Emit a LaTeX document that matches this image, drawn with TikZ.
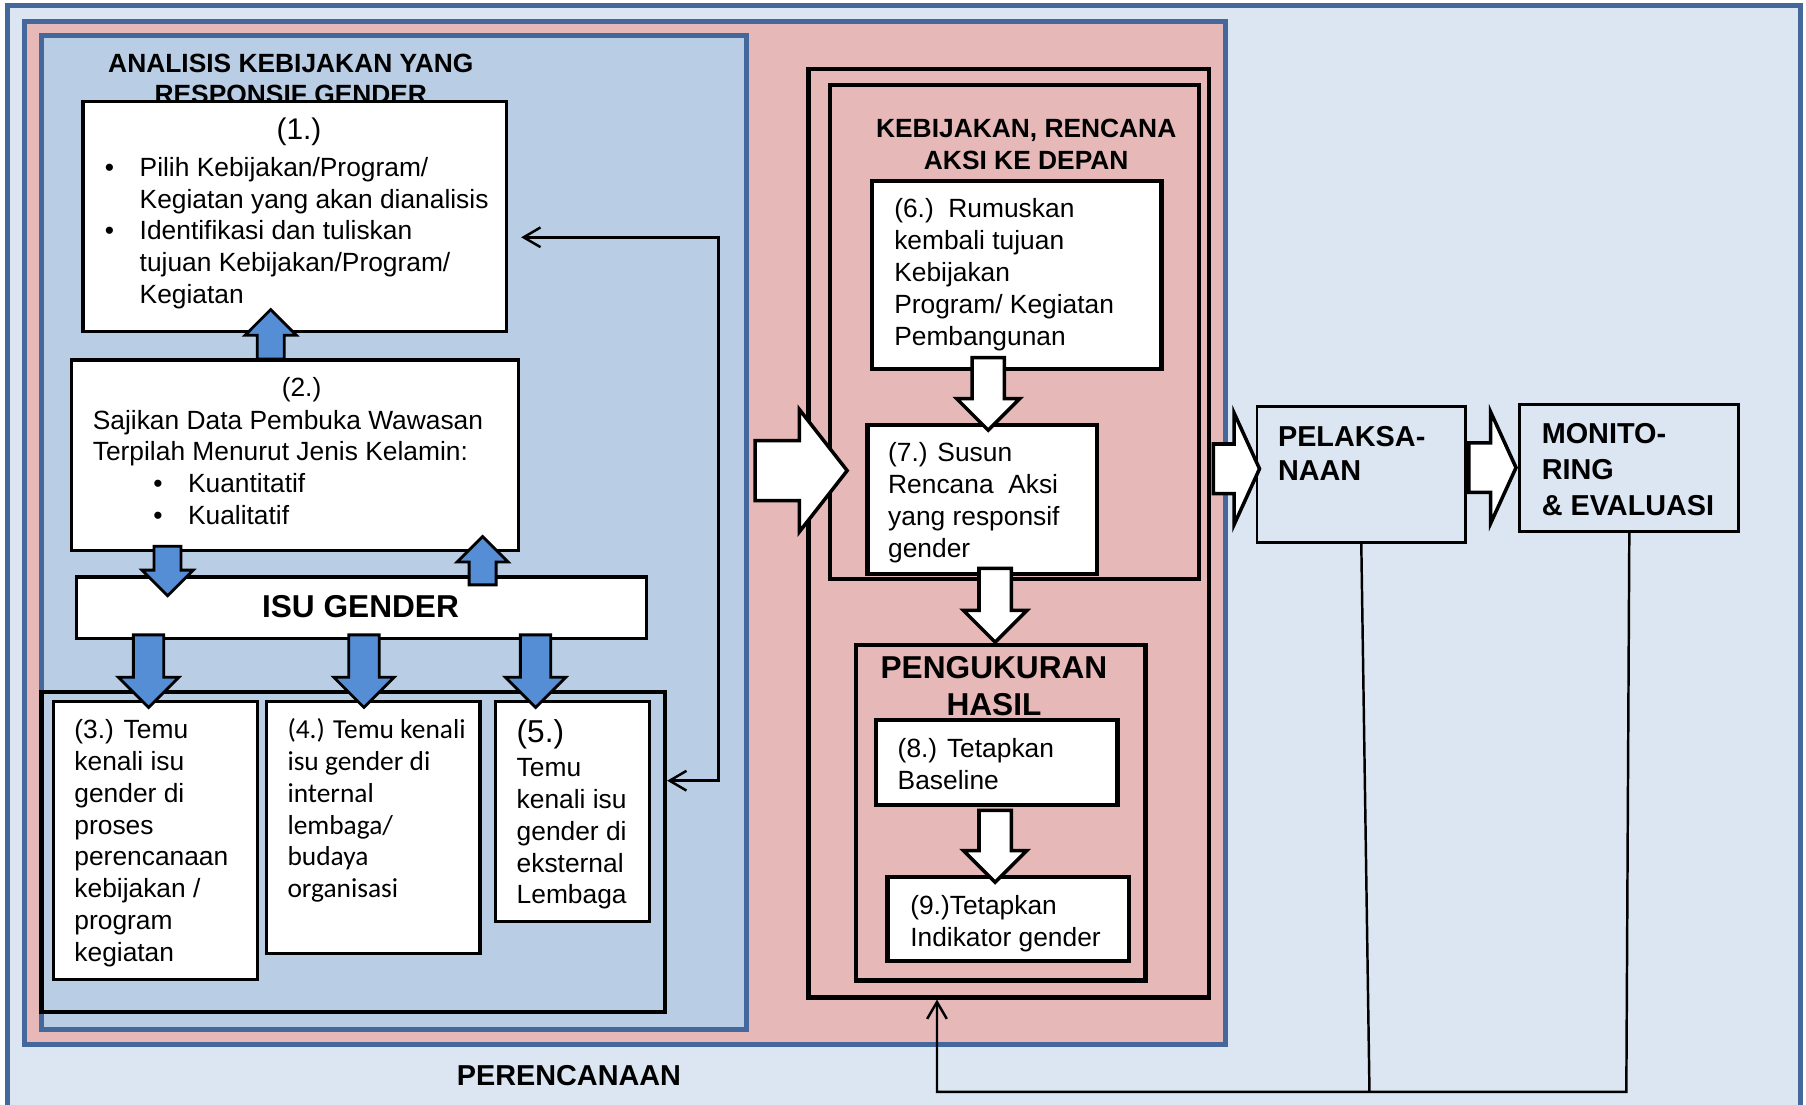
\documentclass[tikz,border=0pt]{standalone}
\usepackage{fontspec}
\setmainfont{Liberation Sans}
\newfontfamily\calibrifont{Carlito}
\usetikzlibrary{arrows.meta, fit, shapes.arrows}

\definecolor{planfill}{HTML}{DCE6F2}
\definecolor{pinkfill}{HTML}{E6B9B8}
\definecolor{bluefill}{HTML}{B9CDE5}
\definecolor{steel}{HTML}{44689C}
\definecolor{arrowblue}{HTML}{558ED5}

\newlength{\px}
\setlength{\px}{0.11518mm}
\newcommand{\itembul}{\makebox[9.9pt][l]{\textbullet}}
\newcommand{\itemgap}{\hspace*{9.9pt}}

\begin{document}
\begin{tikzpicture}[
    x=0.11518mm, y=-0.11518mm,
    panel/.style={draw=steel, line width=1.4pt, inner sep=0pt},
    blackframe/.style={draw=black, line width=1.2pt, inner sep=0pt},
    lbox/.style={draw=black, fill=white, line width=0.9pt, inner sep=0pt},
    rbox/.style={draw=black, fill=white, line width=1.2pt, inner sep=0pt},
    sbox/.style={draw=black, line width=0.8pt, inner sep=0pt},
    boxtext/.style={anchor=north west, align=left, inner sep=0pt, font=\fontsize{7.5}{9.05}\selectfont},
    titletext/.style={anchor=north, align=center, inner sep=0pt, font=\bfseries\fontsize{7.5}{8.9}\selectfont},
    % panah tegak: lebar batang lewat inner xsep
    bluearr/.style={single arrow, draw=black, fill=arrowblue, line width=0.8pt, inner ysep=0pt,
        inner xsep=10.5\px, anchor=tail, single arrow head extend=10.5\px, minimum height=43\px},
    bigblue/.style={bluearr, inner xsep=12\px, single arrow head extend=13\px, minimum height=63\px},
    whitearr/.style={single arrow, draw=black, fill=white, line width=1pt, inner ysep=0pt,
        inner xsep=12.5\px, anchor=tail, single arrow head extend=13.5\px, minimum height=63\px},
    % panah mendatar: lebar batang lewat inner ysep
    fatarr/.style={single arrow, draw=black, fill=white, line width=1pt, inner xsep=0pt,
        inner ysep=24.5\px, anchor=tail, single arrow head extend=27\px,
        minimum height=80\px, single arrow tip angle=104},
    flatarr/.style={fatarr, inner ysep=20\px, single arrow head extend=27\px,
        minimum height=40\px, single arrow tip angle=131},
    fb/.style={line width=0.7pt},
    barb/.tip={Straight Barb[length=4.8pt, width=5.6pt]}
]
\useasboundingbox (0,0) rectangle (1568,959);

% latar belakang: perencanaan
\begin{scope}
\clip (0,0) rectangle (1568,959);
\node[panel, fill=planfill, fit={(6.3,4.7) (1563.5,980)}] (plan) {};
\end{scope}
\node[panel, fill=pinkfill, fit={(21,18.6) (1064,907)}] (pinkfr) {};
\node[panel, fill=bluefill, fit={(35.7,31) (648,894)}] (anfr) {};

% analisis kebijakan (kiri)
\node[titletext] (antitle) at (252.5,43.5) {\strut ANALISIS KEBIJAKAN YANG\\RESPONSIF GENDER};
\node[lbox, fit={(72,88) (440,288)}] (b1) {};
\node[inner sep=0pt, font=\fontsize{8.5}{10}\selectfont] (b1n) at (259.6,114.8) {(1.)};
\node[boxtext] (b1t) at (90.5,133.1) {\strut\itembul Pilih Kebijakan/Program/\\\itemgap Kegiatan yang akan dianalisis\\\itembul Identifikasi dan tuliskan\\\itemgap tujuan Kebijakan/Program/\\\itemgap Kegiatan};

\node[lbox, fit={(62.3,312.5) (450.3,477.6)}] (b2) {};
\node[inner sep=0pt, font=\fontsize{7.5}{9}\selectfont] (b2n) at (261.8,338) {(2.)};
\node[boxtext] (b2t) at (80,352.6) {\strut Sajikan Data Pembuka Wawasan\\Terpilah Menurut Jenis Kelamin:\\\hspace*{17.2pt}\itembul Kuantitatif\\\hspace*{17.2pt}\itembul Kualitatif};

\node[lbox, fit={(66.5,501) (561,554)}] (isu) {};
\node[inner sep=0pt, font=\bfseries\fontsize{9}{10.8}\selectfont] (isut) at (313,526.7) {ISU GENDER};

\node[blackframe, fit={(36,601) (577.4,878.6)}] (isufr) {};
\node[lbox, fit={(46.3,609) (223.5,850.5)}] (b3) {};
\node[boxtext] (b3t) at (64,621.3) {\strut(3.) Temu\\kenali isu\\gender di\\proses\\perencanaan\\kebijakan /\\program\\kegiatan};
\node[lbox, fit={(231.5,609) (416.7,828)}] (b4) {};
\node[boxtext, font=\calibrifont\fontsize{7.8}{9.05}\selectfont] (b4t) at (249,621.3) {\strut(4.) Temu kenali\\isu gender di\\internal\\lembaga/\\budaya\\organisasi};
\node[lbox, fit={(430,609) (564,800)}] (b5) {};
\node[inner sep=0pt, anchor=west, font=\fontsize{9}{10}\selectfont] (b5n) at (448,637.8) {(5.)};
\node[boxtext] (b5t) at (448,654.3) {\strut Temu\\kenali isu\\gender di\\eksternal\\Lembaga};

% panah biru
\node[bluearr, shape border rotate=90] (a21) at (235,313) {};
\node[bluearr, shape border rotate=270] (a2i) at (145.5,473) {};
\node[bluearr, shape border rotate=90, minimum height=42\px] (ai2) at (419,509) {};
\node[bigblue, shape border rotate=270] (ai3) at (129,550) {};
\node[bigblue, shape border rotate=270] (ai4) at (316,550) {};
\node[bigblue, shape border rotate=270] (ai5) at (465,550) {};

% umpan balik kiri
\coordinate (fbtop) at (452.5,206);
\coordinate (fbbend) at (623.7,206);
\coordinate (fblow) at (623.7,677.8);
\draw[fb, barb-barb] (isufr.east |- fblow) -- (fblow) -- (fbbend) -- (fbtop);

% kebijakan dan pengukuran (kanan)
\node[blackframe, fit={(702,60) (1049.7,866)}] (rfr) {};
\node[blackframe, fit={(720.6,73.8) (1041,503)}] (kebfr) {};
\node[titletext, font=\bfseries\fontsize{7.5}{8.95}\selectfont] (kebtitle) at (891,99.7) {\strut KEBIJAKAN, RENCANA\\AKSI KE DEPAN};
\node[rbox, fit={(757,157) (1008.4,320.6)}] (b6) {};
\node[boxtext] (b6t) at (775.8,169.3) {\strut(6.)\ \ Rumuskan\\kembali tujuan\\Kebijakan\\Program/ Kegiatan\\Pembangunan};
\node[rbox, fit={(753.2,368.8) (952.4,498.4)}] (b7) {};
\node[boxtext] (b7t) at (770.5,381.1) {\strut(7.) Susun\\Rencana\ \ Aksi\\yang responsif\\gender};

\node[blackframe, fit={(743.2,560.2) (994.5,851.2)}] (ukfr) {};
\node[titletext, font=\bfseries\fontsize{9}{10.7}\selectfont] (uktitle) at (863,565.2) {\strut PENGUKURAN\\HASIL};
\node[rbox, fit={(760.3,625.3) (970.3,698.8)}] (b8) {};
\node[boxtext] (b8t) at (778.8,638) {\strut(8.) Tetapkan\\Baseline};
\node[rbox, fit={(770.5,761.5) (980.5,834)}] (b9) {};
\node[boxtext] (b9t) at (789.7,774) {\strut(9.)Tetapkan\\Indikator gender};

% panah putih
\node[whitearr, shape border rotate=270] (a67) at (858,309) {};
\node[whitearr, shape border rotate=270, minimum height=64\px] (a7u) at (864,492) {};
\node[whitearr, shape border rotate=270, minimum height=62.5\px] (a89) at (864,702) {};
\node[fatarr] (aplan) at (654,408.6) {};

% pelaksanaan, monitoring
\node[sbox, fit={(1091.4,353.2) (1272.4,471.2)}] (pel) {};
\node[titletext, anchor=north west, align=left, font=\bfseries\fontsize{8.2}{9.63}\selectfont] (peltitle) at (1109,366.4) {\strut PELAKSA-\\NAAN};
\node[sbox, fit={(1319.5,351.2) (1509.7,461.2)}] (mon) {};
\node[titletext, anchor=north west, align=left, font=\bfseries\fontsize{8.2}{10.26}\selectfont] (montitle) at (1338,362.1) {\strut MONITO-\\RING\\\& EVALUASI};
\node[flatarr] (apel) at (1052,407) {};
\node[flatarr, minimum height=41\px] (amon) at (1273.7,406) {};

% umpan balik bawah
\coordinate (jpel) at (1189,948);
\coordinate (jmon) at (1412,948);
\coordinate (jleft) at (813.5,948);
\draw[fb] (pel.south) -- (jpel);
\draw[fb, -barb] (mon.south) -- (jmon) -- (jleft) -- (jleft |- rfr.south);

\node[inner sep=0pt, font=\bfseries\fontsize{8.2}{10}\selectfont] (plantitle) at (494,933.5) {PERENCANAAN};
\end{tikzpicture}
\end{document}
